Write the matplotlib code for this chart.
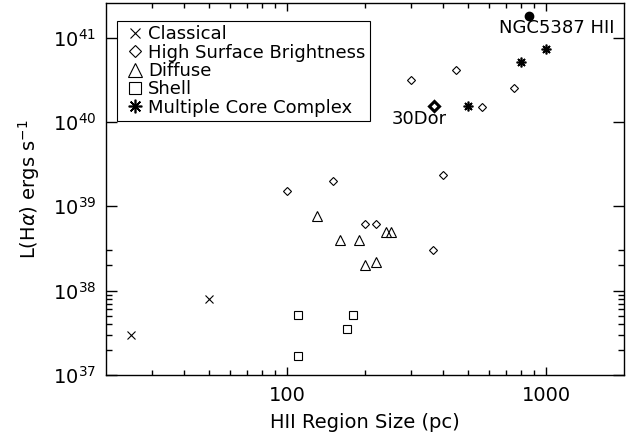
import matplotlib
matplotlib.use("Agg")
import matplotlib.pyplot as plt
from matplotlib.ticker import FixedLocator, NullFormatter, LogFormatterSciNotation
from matplotlib.lines import Line2D

# tamaño (pc) y luminosidad H-alpha (erg/s) por tipo de region HII
classical_size = [25, 50]
classical_lum = [3.0e37, 8.0e37]

hsb_size = [100, 150, 300, 450, 400, 200, 220, 365, 565, 750]
hsb_lum = [1.5e39, 2.0e39, 3.1e40, 4.1e40, 2.35e39, 6.1e38, 6.1e38, 3.0e38, 1.5e40, 2.5e40]

diffuse_size = [130, 160, 190, 200, 220, 240, 252]
diffuse_lum = [7.6e38, 4.0e38, 4.0e38, 2.0e38, 2.2e38, 5.0e38, 5.0e38]

shell_size = [110, 110, 180, 170]
shell_lum = [5.2e37, 1.67e37, 5.2e37, 3.5e37]

mcc_size = [500, 800, 1000]
mcc_lum = [1.55e40, 5.2e40, 7.3e40]

# puntos marcados aparte
dor_size = [370]
dor_lum = [1.55e40]
ngc_size = [860]
ngc_lum = [1.8e41]

ASTER = (8, 2, 0)

fig = plt.figure(figsize=(6.41, 4.43), dpi=100)
ax = fig.add_axes([106 / 641, 1 - 375 / 443, 518 / 641, 372 / 443])

ax.plot(classical_size, classical_lum, ls='none', marker='x', ms=5.5, mew=0.8, color='k')
ax.plot(hsb_size, hsb_lum, ls='none', marker='D', ms=4.2, mfc='none', mew=0.8, color='k')
ax.plot(diffuse_size, diffuse_lum, ls='none', marker='^', ms=7, mfc='none', mew=0.8, color='k')
ax.plot(shell_size, shell_lum, ls='none', marker='s', ms=6, mfc='none', mew=0.8, color='k')
ax.plot(mcc_size, mcc_lum, ls='none', marker=ASTER, ms=7, mew=1.2, color='k')
ax.plot(dor_size, dor_lum, ls='none', marker='D', ms=5.5, mfc='none', mew=2.2, color='k')
ax.plot(ngc_size, ngc_lum, ls='none', marker='o', ms=6, color='k')

ax.annotate("30Dor", (dor_size[0], dor_lum[0]), xytext=(-43, -13), textcoords='offset pixels',
            ha='left', va='center', fontsize=13)
ax.annotate("NGC5387 HII", (ngc_size[0], ngc_lum[0]), xytext=(-30, -12), textcoords='offset pixels',
            ha='left', va='center', fontsize=13)

ax.set_xscale('log')
ax.set_yscale('log')
ax.set_xlim(20, 2000)
ax.set_ylim(1e37, 10 ** 41.41)

ax.xaxis.set_major_locator(FixedLocator([100, 1000]))
ax.set_xticklabels(['100', '1000'])
ax.xaxis.set_minor_locator(FixedLocator([k * 10 for k in range(3, 10)] + [k * 100 for k in range(2, 10)]))
ax.xaxis.set_minor_formatter(NullFormatter())

ax.yaxis.set_major_locator(FixedLocator([1e37, 1e38, 1e39, 1e40, 1e41]))
ax.yaxis.set_major_formatter(LogFormatterSciNotation())
ax.yaxis.set_minor_locator(FixedLocator([k * 1e37 for k in range(2, 10)] + [2e38, 3e38]))
ax.yaxis.set_minor_formatter(NullFormatter())

ax.tick_params(which='both', direction='in', top=True, right=True, width=1.0, labelsize=14)
ax.tick_params(axis='x', which='major', length=6, pad=8)
ax.tick_params(axis='x', which='minor', length=3.6)
ax.tick_params(axis='y', which='major', length=7.7, pad=7)
ax.tick_params(axis='y', which='minor', length=4.5)
for s in ax.spines.values():
    s.set_linewidth(1.0)

ax.set_xlabel("HII Region Size (pc)", fontsize=14, labelpad=6)
ax.set_ylabel(r"L(H$\alpha$) ergs s$^{-1}$", fontsize=14, labelpad=8)

handles = [
    Line2D([], [], ls='none', marker='x', ms=5.5, mew=0.8, color='k', label='Classical'),
    Line2D([], [], ls='none', marker='D', ms=4.2, mfc='none', mew=0.8, color='k', label='High Surface Brightness'),
    Line2D([], [], ls='none', marker='^', ms=7, mfc='none', mew=0.8, color='k', label='Diffuse'),
    Line2D([], [], ls='none', marker='s', ms=6, mfc='none', mew=0.8, color='k', label='Shell'),
    Line2D([], [], ls='none', marker=ASTER, ms=7, mew=1.2, color='k', label='Multiple Core Complex'),
]
leg = ax.legend(handles=handles, loc='upper left', bbox_to_anchor=(0.0207, 0.952), borderaxespad=0,
                fontsize=13, markerscale=1.4, borderpad=0.25, handlelength=1.5, handletextpad=0.0,
                labelspacing=0.02, fancybox=False, edgecolor='k', framealpha=1)
leg.get_frame().set_linewidth(0.8)

fig.savefig("out.png", dpi=100)
